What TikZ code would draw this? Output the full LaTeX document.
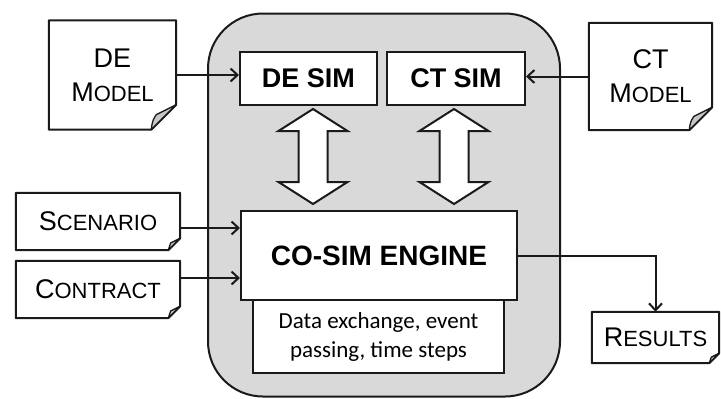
\documentclass[tikz,border=0pt]{standalone}
\usepackage{fontspec}
\setmainfont{Liberation Sans}
\newfontfamily\notefont{Carlito}
\usetikzlibrary{positioning, calc, arrows.meta}
\definecolor{csPanel}{HTML}{D9D9D9}
\definecolor{csFold}{HTML}{C6C6C6}
\definecolor{csLine}{HTML}{1A1A1A}
% fake small caps: big first letter, smaller rest
\newcommand{\smcap}[2]{#1{\fontsize{22}{22}\selectfont #2}}
% page outline with folded corner, drawn around a node
\newcommand{\docframe}[2]{%
  \draw[docline] (#1.north west) -- (#1.north east) -- ([yshift=#2]#1.south east)
    -- ([xshift=-#2]#1.south east) -- (#1.south west) -- cycle;
  \draw[docline, line width=1.3pt, fill=csFold] ([xshift=-#2]#1.south east)
    .. controls ([xshift=-0.95*#2, yshift=0.35*#2]#1.south east) .. ([xshift=-0.8*#2, yshift=0.6*#2]#1.south east)
    -- ([yshift=#2]#1.south east) -- cycle;
}
% hollow two-headed arrow, vertical
\newcommand{\dblarrow}[2]{%
  \draw[big] let \p1=#1, \p2=#2 in
    (\x1,\y1) -- (\x1+34.5pt,\y1-22pt) -- (\x1+14.5pt,\y1-22pt) -- (\x1+14.5pt,\y2+22pt)
    -- (\x1+34.5pt,\y2+22pt) -- (\x1,\y2) -- (\x1-34.5pt,\y2+22pt) -- (\x1-14.5pt,\y2+22pt)
    -- (\x1-14.5pt,\y1-22pt) -- (\x1-34.5pt,\y1-22pt) -- cycle;
}

\begin{document}
\begin{tikzpicture}[
  x=1pt, y=-1pt,
  panel/.style={draw=csLine, line width=2pt, fill=csPanel, rounded corners=55pt},
  sim/.style={draw=csLine, line width=2pt, fill=white, inner sep=0pt,
              font=\bfseries\fontsize{27}{27}\selectfont},
  note/.style={draw=csLine, line width=2pt, fill=white, inner sep=0pt, align=center,
               font=\notefont\fontsize{23}{29}\selectfont},
  doc/.style={inner sep=0pt, align=center, font=\fontsize{27}{34}\selectfont},
  docline/.style={draw=csLine, line width=2pt, line join=round},
  big/.style={draw=csLine, line width=2pt, fill=white, line join=miter},
  arr/.style={-{Straight Barb[length=7pt,width=13pt]}, line width=2pt, draw=csLine}
]
\useasboundingbox (0,0) rectangle (721,399);

% ===== co-simulation panel =====
\node[panel, minimum width=352pt, minimum height=383pt] (panel) at (384,205) {};

\node[sim, minimum width=137pt, minimum height=53pt] (desim) at (308.5,78.5) {DE SIM};
\node[sim, minimum width=138pt, minimum height=53pt] (ctsim) at (456,78.5) {CT SIM};

\node[note, minimum width=251pt, minimum height=73pt] (info) at (378.5,336.5)
      {Data exchange, event\\passing, time steps};
\node[sim, minimum width=276pt, minimum height=89pt, font=\bfseries\fontsize{28}{28}\selectfont]
      (engine) at (379,255.5) {CO-SIM ENGINE};

\dblarrow{([xshift=4.5pt,yshift=-3pt]desim.south)}{([yshift=6pt]engine.north)}
\dblarrow{([xshift=-2pt,yshift=-3pt]ctsim.south)}{([yshift=6pt]engine.north)}

% ===== input / output documents =====
\node[doc, minimum width=127pt, minimum height=109pt] (demodel) at (112.5,75) {DE\\\smcap{M}{ODEL}};
\node[doc, minimum width=123pt, minimum height=107pt] (ctmodel) at (650.5,76.5) {CT\\\smcap{M}{ODEL}};
\node[doc, minimum width=164pt, minimum height=57pt] (scenario) at (98,221.5) {\smcap{S}{CENARIO}};
\node[doc, minimum width=164pt, minimum height=57pt] (contract) at (98,289.5) {\smcap{C}{ONTRACT}};
\node[doc, minimum width=127pt, minimum height=51pt] (results) at (655.5,337.5) {\smcap{R}{ESULTS}};

\docframe{demodel}{25pt}
\docframe{ctmodel}{23pt}
\docframe{scenario}{12pt}
\docframe{contract}{12pt}
\docframe{results}{10pt}

% connectors
\draw[arr] (demodel.east) -- (demodel.east -| desim.west);
\draw[arr] (ctmodel.west) -- (ctmodel.west -| ctsim.east);
\draw[arr] ([yshift=-6.5pt]scenario.east) -- ([yshift=-6.5pt]scenario.east -| engine.west);
\draw[arr] ([yshift=11.5pt]contract.east) -- ([yshift=11.5pt]contract.east -| engine.west);
\draw[arr] (engine.east) -| (results.north);

\end{tikzpicture}
\end{document}
